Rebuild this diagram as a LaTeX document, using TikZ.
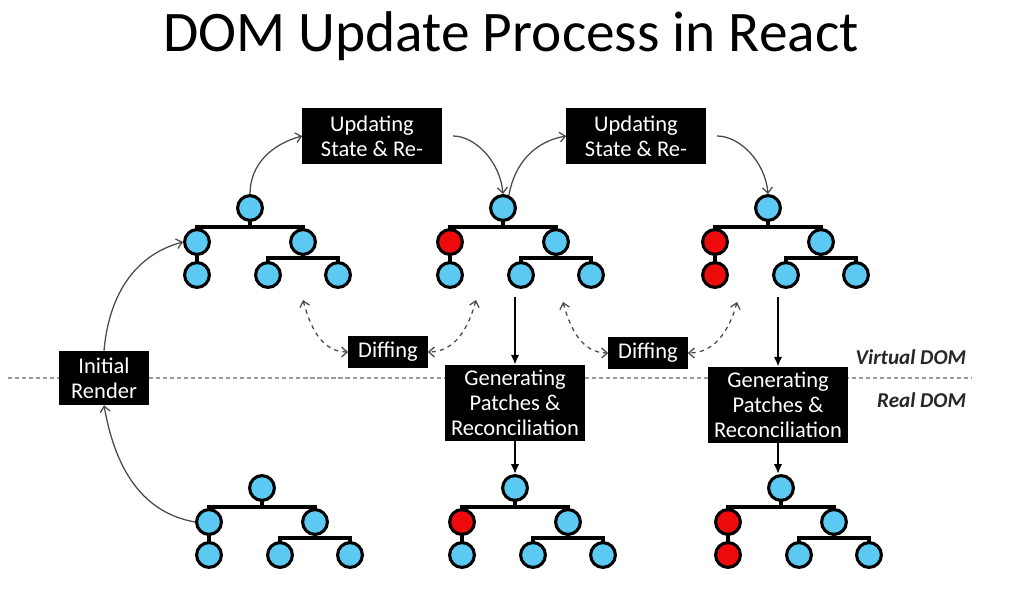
\documentclass[tikz,border=0pt]{standalone}
\usepackage{fontspec}
\setmainfont{Carlito}
\usetikzlibrary{arrows.meta,positioning,calc,backgrounds}
\definecolor{domcyan}{HTML}{5BC9F1}
\definecolor{domred}{HTML}{EE0B0B}
\definecolor{arrowgray}{HTML}{4A4A4A}
\definecolor{sepgray}{HTML}{9A9A9A}
\tikzset{
  domnode/.style={
    circle, draw=black, line width=2.2pt, fill=#1,
    minimum size=0.62cm, inner sep=0pt
  },
  domnode/.default=domcyan,
  treeline/.style={line width=2.4pt, draw=black},
  stepbox/.style={
    rectangle, fill=black, text=white,
    font=\fontsize{16}{17.6}\selectfont, align=center,
    inner sep=2pt
  },
  flowarrow/.style={
    -{Straight Barb[length=4pt,width=7pt]}, line width=0.9pt, color=arrowgray
  },
  diffarrow/.style={
    {Straight Barb[length=4pt,width=7pt]}-{Straight Barb[length=4pt,width=7pt]},
    dashed, line width=0.9pt, color=arrowgray
  },
  patcharrow/.style={
    -{Latex[length=7pt,width=6pt]}, line width=1.5pt, color=black
  },
  labelnode/.style={
    font=\fontsize{15}{18}\selectfont\bfseries\itshape, color=black!85
  },
}
% one tree: name, position, fill of left child, fill of its child
\newcommand{\domtree}[4]{%
  \begin{scope}[shift={#2}]
    \node[domnode] (#1-r) at (0,0) {};
    \node[domnode=#3] (#1-a) at (-53,-34) {};
    \node[domnode] (#1-b) at (53,-34) {};
    \node[domnode=#4] (#1-aa) at (-53,-67) {};
    \node[domnode] (#1-ba) at (18,-67) {};
    \node[domnode] (#1-bb) at (88,-67) {};
  \end{scope}
  \begin{scope}[on background layer]
    \draw[treeline] (#1-r.center) -- ($(#1-r)+(0,-19)$);
    \draw[treeline] (#1-a.center) |- ($(#1-r)+(0,-19)$) -| (#1-b.center);
    \draw[treeline] (#1-a.center) -- (#1-aa.center);
    \draw[treeline] (#1-b.center) -- ($(#1-b)+(0,-16)$);
    \draw[treeline] (#1-ba.center) |- ($(#1-b)+(0,-16)$) -| (#1-bb.center);
  \end{scope}
}

\begin{document}
\begin{tikzpicture}[x=0.025cm, y=0.025cm]
  \useasboundingbox (0,0) rectangle (1024,-589);

  \node[font=\fontsize{40.8}{44}\selectfont, anchor=base] (title) at (511,-52)
    {DOM Update Process in React};

  % separator between the two DOMs
  \coordinate (sepl) at (8,-378);
  \coordinate (sepr) at (972,-378);
  \begin{scope}[on background layer]
    \draw[sepgray, line width=0.8pt, dash pattern=on 3pt off 2pt] (sepl) -- (sepr);
  \end{scope}
  \node[labelnode, anchor=base east] (vdom) at (971,-364) {Virtual DOM};
  \node[labelnode, anchor=base east] (rdom) at (971,-407) {Real DOM};

  % trees
  \domtree{t1}{(250,-208)}{domcyan}{domcyan}
  \domtree{t2}{(503,-208)}{domred}{domcyan}
  \domtree{t3}{(768,-208)}{domred}{domred}
  \domtree{t4}{(262,-488)}{domcyan}{domcyan}
  \domtree{t5}{(515,-488)}{domred}{domcyan}
  \domtree{t6}{(781,-488)}{domred}{domred}

  % boxes
  \node[stepbox, minimum width=3.475cm, minimum height=1.375cm] (upd1) at (372,-136)
    {Updating\\State \& Re-};
  \node[stepbox, minimum width=3.475cm, minimum height=1.375cm] (upd2) at (636,-136)
    {Updating\\State \& Re-};
  \node[stepbox, minimum width=1.975cm, minimum height=0.775cm] (diff1) at (388,-352)
    {Diffing};
  \node[stepbox, minimum width=1.975cm, minimum height=0.775cm] (diff2) at (648,-353)
    {Diffing};
  \node[stepbox, minimum width=3.475cm, minimum height=1.9cm] (gen1) at (515,-403)
    {Generating\\Patches \&\\Reconciliation};
  \node[stepbox, minimum width=3.475cm, minimum height=1.9cm] (gen2) at (778,-405)
    {Generating\\Patches \&\\Reconciliation};
  \node[stepbox, minimum width=2.25cm, minimum height=1.35cm] (init) at (104,-378)
    {Initial\\Render};

  % render and update flow
  \draw[flowarrow] (t4-a.west) to[out=170,in=-80] (init.south);
  \draw[flowarrow] (init.north) to[out=85,in=195] (t1-a.west);
  \draw[flowarrow] (t1-r.north) to[out=90,in=195] (upd1.west);
  \draw[flowarrow, shorten <=8pt] (upd1.east) to[out=0,in=95] (t2-r.north);
  \draw[flowarrow] (t2-r.65) to[out=80,in=190] (upd2.west);
  \draw[flowarrow, shorten <=8pt] (upd2.east) to[out=0,in=95] (t3-r.north);

  % diffing
  \coordinate (d1l) at (303,-300);
  \coordinate (d1r) at (476,-300);
  \coordinate (d2l) at (563,-302);
  \coordinate (d2r) at (737,-302);
  \draw[diffarrow] (d1l) to[out=-75,in=180] (diff1.west);
  \draw[diffarrow] (d1r) to[out=-105,in=0] (diff1.east);
  \draw[diffarrow] (d2l) to[out=-75,in=180] (diff2.west);
  \draw[diffarrow] (d2r) to[out=-105,in=0] (diff2.east);

  % patches
  \draw[patcharrow, shorten <=6pt] (t2-ba.south -| gen1.north) -- (gen1.north);
  \draw[patcharrow] (gen1.south) -- (gen1.south |- t5-r.north);
  \draw[patcharrow, shorten <=6pt] (t3-ba.south -| gen2.north) -- (gen2.north);
  \draw[patcharrow] (gen2.south) -- (gen2.south |- t6-r.north);
\end{tikzpicture}
\end{document}
